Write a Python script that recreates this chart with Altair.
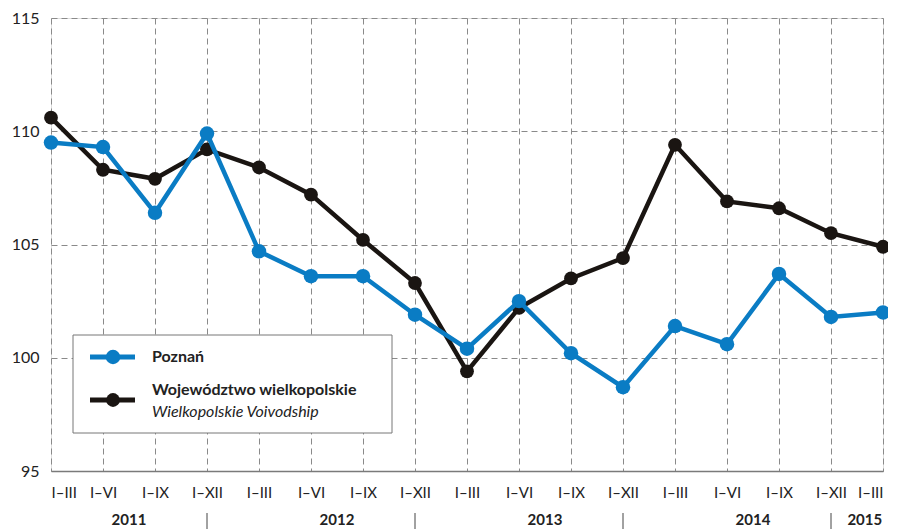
import altair as alt
import pandas as pd

periods = ["I–III", "I–VI", "I–IX", "I–XII"] * 4 + ["I–III"]
poznan = [109.5, 109.3, 106.4, 109.9, 104.7, 103.6, 103.6, 101.9, 100.4, 102.5,
          100.2, 98.7, 101.4, 100.6, 103.7, 101.8, 102.0]
wielkopolskie = [110.6, 108.3, 107.9, 109.2, 108.4, 107.2, 105.2, 103.3, 99.4, 102.2,
                 103.5, 104.4, 109.4, 106.9, 106.6, 105.5, 104.9]
years = ["2011", "2012", "2013", "2014", "2015"]
year_pos = [1.5, 5.5, 9.5, 13.5, 15.65]
separators = [3, 7, 11, 15]

W, H = 832, 453
FONT = "Lato"
BLUE = "#0a7cc4"
BLACK = "#1a1512"

idx = list(range(len(periods)))
df_p = pd.DataFrame({"i": idx, "v": poznan})
df_w = pd.DataFrame({"i": idx, "v": wielkopolskie})
df_y = pd.DataFrame({"i": year_pos, "t": years})
df_s = pd.DataFrame({"i": separators})

label_arr = "[" + ",".join("'" + p + "'" for p in periods) + "]"

xscale = alt.Scale(domain=[0, 16], nice=False, zero=False)
yscale = alt.Scale(domain=[95, 115], nice=False, zero=False)

xaxis = alt.Axis(values=idx, labelExpr=label_arr + "[datum.value]", title=None,
                 ticks=False, grid=True, gridDash=[6, 4], gridColor="#8a8a8a",
                 gridWidth=1, domain=True, domainColor="#7a7a7a", domainWidth=1.5,
                 labelFont=FONT, labelFontSize=15, labelColor="#222",
                 labelPadding=14, labelAngle=0)
yaxis = alt.Axis(values=[95, 100, 105, 110, 115], title=None, ticks=False,
                 grid=True, gridDash=[6, 4], gridColor="#8a8a8a", gridWidth=1,
                 domain=False, labelFont=FONT, labelFontSize=16, labelColor="#222",
                 labelPadding=12)

base_w = alt.Chart(df_w).encode(
    x=alt.X("i:Q", scale=xscale, axis=xaxis),
    y=alt.Y("v:Q", scale=yscale, axis=yaxis),
)
line_w = base_w.mark_line(color=BLACK, strokeWidth=4.5)
pt_w = base_w.mark_circle(color=BLACK, size=190, opacity=1)

base_p = alt.Chart(df_p).encode(x=alt.X("i:Q", scale=xscale), y=alt.Y("v:Q", scale=yscale))
line_p = base_p.mark_line(color=BLUE, strokeWidth=4.5)
pt_p = base_p.mark_circle(color=BLUE, size=210, opacity=1)

year_text = alt.Chart(df_y).mark_text(font=FONT, fontSize=15, fontWeight="bold",
                                      color="#222", baseline="middle").encode(
    x=alt.X("i:Q", scale=xscale), y=alt.value(H + 49), text="t:N")
sep_rule = alt.Chart(df_s).mark_rule(color="#444", strokeWidth=1).encode(
    x=alt.X("i:Q", scale=xscale), y=alt.value(H + 42), y2=alt.value(H + 58))

# legend
one = pd.DataFrame({"a": [0]})
leg_box = alt.Chart(one).mark_rect(fill="white", stroke="#777", strokeWidth=1).encode(
    x=alt.value(22), x2=alt.value(341), y=alt.value(317), y2=alt.value(415))
leg_l1 = alt.Chart(one).mark_rule(color=BLUE, strokeWidth=5).encode(
    x=alt.value(39), x2=alt.value(84), y=alt.value(339))
leg_p1 = alt.Chart(one).mark_circle(color=BLUE, size=210, opacity=1).encode(
    x=alt.value(62), y=alt.value(339))
leg_l2 = alt.Chart(one).mark_rule(color=BLACK, strokeWidth=5).encode(
    x=alt.value(39), x2=alt.value(84), y=alt.value(382))
leg_p2 = alt.Chart(one).mark_circle(color=BLACK, size=190, opacity=1).encode(
    x=alt.value(62), y=alt.value(382))
leg_t1 = alt.Chart(one).mark_text(font=FONT, fontSize=16, fontWeight="bold", color="#222",
                                  align="left", baseline="middle").encode(
    x=alt.value(101), y=alt.value(339), text=alt.value("Poznań"))
leg_t2 = alt.Chart(one).mark_text(font=FONT, fontSize=16, fontWeight="bold", color="#222",
                                  align="left", baseline="middle").encode(
    x=alt.value(101), y=alt.value(372), text=alt.value("Województwo wielkopolskie"))
leg_t3 = alt.Chart(one).mark_text(font=FONT, fontSize=16, fontStyle="italic", color="#222",
                                  align="left", baseline="middle").encode(
    x=alt.value(101), y=alt.value(394), text=alt.value("Wielkopolskie Voivodship"))

chart = alt.layer(
    line_w, pt_w, line_p, pt_p, year_text, sep_rule,
    leg_box, leg_l1, leg_p1, leg_l2, leg_p2, leg_t1, leg_t2, leg_t3
).properties(
    width=W, height=H,
    autosize=alt.AutoSizeParams(type="none"),
    padding={"left": 43, "top": 10, "right": 5, "bottom": 58},
).configure_view(stroke=None).configure(background="white")

chart.save("out.html", embed_options={"renderer": "svg", "actions": False})
